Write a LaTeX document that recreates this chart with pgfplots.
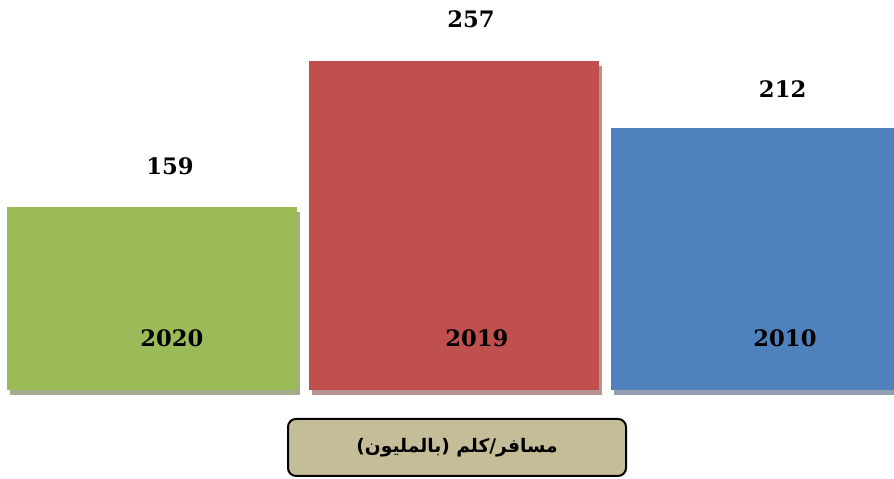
\documentclass[border=0pt]{standalone}
\usepackage{pgfplots}
\pgfplotsset{compat=1.18}
\usepackage{fontspec}
\newfontfamily\arabicfont[Script=Arabic]{DejaVu Sans}
\newfontfamily\numfont{DejaVu Serif}
\TeXXeTstate=1

\definecolor{barG}{HTML}{9BBB59}
\definecolor{barR}{HTML}{C0504D}
\definecolor{barB}{HTML}{4F81BD}
\definecolor{shG}{HTML}{A4AC8D}
\definecolor{shR}{HTML}{B99392}
\definecolor{shB}{HTML}{93A0B2}
\definecolor{boxtan}{HTML}{C4BD97}

\newcommand\lblfont{\numfont\bfseries\fontsize{17}{20}\selectfont}

\begin{document}
\begin{tikzpicture}
\begin{axis}[
    at={(0,0)}, anchor=south west,
    scale only axis,
    width=670.5pt, height=292.5pt,
    xmin=-0.503, xmax=2.457,
    ymin=36.5, ymax=298.2,
    y coord trafo/.code={\pgfmathparse{#1-36.5}},
    y coord inv trafo/.code={\pgfmathparse{#1+36.5}},
    clip=false,
    axis on top,
    axis line style={draw=none},
    ytick=\empty,
    xtick={0.066,1.076,2.096},
    xticklabels={2020,2019,2010},
    major tick length=0pt,
    xticklabel style={font=\lblfont, anchor=center, yshift=39pt},
    point meta=explicit symbolic,
    every node near coord/.append style={font=\lblfont, anchor=center},
]

% shadows
\addplot[ybar, bar width=217.5pt, bar shift=2.25pt, fill=shG, draw=none, yshift=-3.4pt] coordinates {(0,159)};
\addplot[ybar, bar width=217.5pt, bar shift=2.25pt, fill=shR, draw=none, yshift=-3.4pt] coordinates {(1,257)};
\addplot[ybar, bar width=217.5pt, bar shift=2.25pt, fill=shB, draw=none, yshift=-3.4pt] coordinates {(2,212)};

% bars
\addplot[ybar, bar width=217.5pt, fill=barG, draw=none,
    nodes near coords, every node near coord/.append style={yshift=31pt, xshift=13.5pt}]
    coordinates {(0,159) [159]};
\addplot[ybar, bar width=217.5pt, fill=barR, draw=none,
    nodes near coords, every node near coord/.append style={yshift=31.5pt, xshift=12.75pt}]
    coordinates {(1,257) [257]};
\addplot[ybar, bar width=217.5pt, fill=barB, draw=none,
    nodes near coords, every node near coord/.append style={yshift=29.6pt, xshift=20pt}]
    coordinates {(2,212) [212]};
\end{axis}

\node[draw=black, line width=1.5pt, rounded corners=6pt, fill=boxtan,
      minimum width=253.5pt, minimum height=42.75pt, inner sep=0pt]
  at (342.75pt,-43.1pt) {\arabicfont\bfseries\fontsize{14}{17}\selectfont\beginR مسافر/كلم (بالمليون)\endR};

\pgfresetboundingbox
\path (0pt,292.5pt) rectangle (670.5pt,-66.75pt);
\end{tikzpicture}
\end{document}
